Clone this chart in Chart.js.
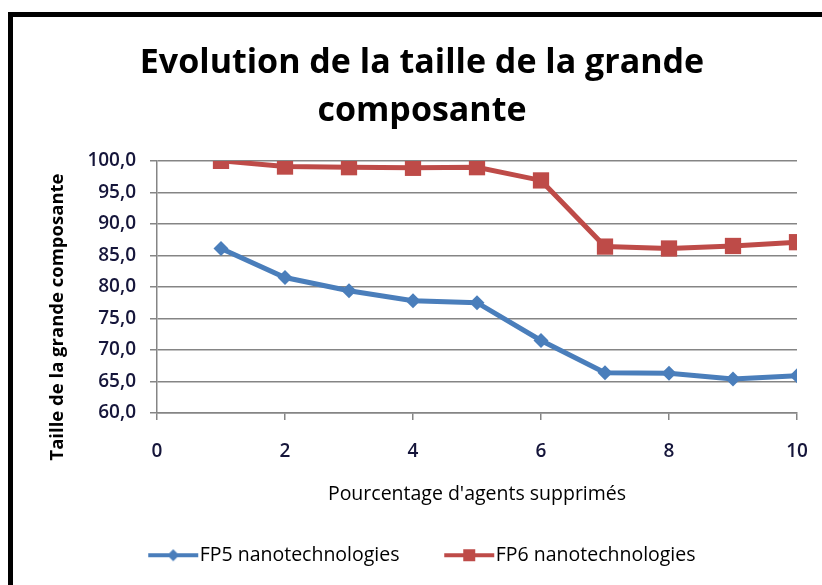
<!DOCTYPE html>
<html>
<head>
<meta charset="utf-8">
<script src="https://cdn.jsdelivr.net/npm/chart.js@4"></script>
<style>
  html, body { margin: 0; padding: 0; background: #fff; overflow: hidden; }
  body { width: 822px; height: 585px; position: relative; }
  #cadre {
    position: absolute; left: 8px; top: 12px; width: 900px; height: 700px;
    border-left: 5px solid #000; border-top: 5px solid #000;
  }
  #zone { position: absolute; left: 13px; top: 17px; width: 818px; height: 568px; }
</style>
</head>
<body>
<div id="cadre"></div>
<div id="zone"><canvas id="graphique"></canvas></div>
<script>
const pourcentages = [1, 2, 3, 4, 5, 6, 7, 8, 9, 10];
const fp5 = [86.1, 81.5, 79.4, 77.8, 77.5, 71.5, 66.4, 66.3, 65.4, 65.9];
const fp6 = [100.0, 99.1, 99.0, 98.9, 99.0, 96.9, 86.4, 86.1, 86.5, 87.1];
const ticksX = [0, 2, 4, 6, 8, 10];
const ticksY = [60, 65, 70, 75, 80, 85, 90, 95, 100];

const BLEU = "#4a7ebb";
const ROUGE = "#be4b48";
const GRIS = "#858585";
const TEXTE_AXES = "#15153a";

// icone de legende : trait + marqueur, decale a droite pour coller au texte
function iconeLegende(couleur, forme) {
  const c = document.createElement("canvas");
  c.width = 62;
  c.height = 20;
  const ctx = c.getContext("2d");
  ctx.strokeStyle = couleur;
  ctx.lineWidth = 4;
  ctx.beginPath();
  ctx.moveTo(10, 10);
  ctx.lineTo(60, 10);
  ctx.stroke();
  ctx.fillStyle = couleur;
  if (forme === "losange") {
    ctx.beginPath();
    ctx.moveTo(35, 4);
    ctx.lineTo(41, 10);
    ctx.lineTo(35, 16);
    ctx.lineTo(29, 10);
    ctx.closePath();
    ctx.fill();
  } else {
    ctx.fillRect(29, 4, 12, 12);
  }
  return c;
}

const icones = [iconeLegende(BLEU, "losange"), iconeLegende(ROUGE, "carre")];

const titreAxeY = {
  id: "titreAxeY",
  afterDraw(chart) {
    const ctx = chart.ctx;
    ctx.save();
    ctx.translate(45, 300);
    ctx.rotate(-Math.PI / 2);
    ctx.font = "bold 18.5px 'Open Sans'";
    ctx.fillStyle = "#000";
    ctx.textAlign = "center";
    ctx.textBaseline = "middle";
    ctx.fillText("Taille de la grande composante", 0, 0);
    ctx.restore();
  }
};

const serie = (valeurs) => pourcentages.map((x, i) => ({ x, y: valeurs[i] }));

new Chart(document.getElementById("graphique"), {
  type: "line",
  data: {
    datasets: [{
      label: "FP5 nanotechnologies",
      data: serie(fp5),
      borderColor: BLEU,
      backgroundColor: BLEU,
      borderWidth: 5,
      pointStyle: "rectRot",
      pointRadius: 7.5,
      pointBorderWidth: 0,
      tension: 0
    }, {
      label: "FP6 nanotechnologies",
      data: serie(fp6),
      borderColor: ROUGE,
      backgroundColor: ROUGE,
      borderWidth: 5,
      pointStyle: "rect",
      pointRadius: 11.5,
      pointBorderWidth: 0,
      tension: 0
    }]
  },
  options: {
    responsive: true,
    maintainAspectRatio: false,
    animation: false,
    layout: { padding: { left: 0, right: 0, top: 0, bottom: 10 } },
    plugins: {
      title: {
        display: true,
        text: ["Evolution de la taille de la grande", "composante"],
        color: "#000",
        font: { family: "'Open Sans'", size: 34, weight: "bold", lineHeight: 1.41 },
        padding: { top: 22, bottom: 26 }
      },
      legend: {
        position: "bottom",
        labels: {
          usePointStyle: true,
          pointStyleWidth: 41.5,
          padding: 45,
          color: "#000",
          font: { family: "'Open Sans'", size: 19.5 },
          generateLabels: (chart) =>
            Chart.defaults.plugins.legend.labels.generateLabels(chart)
              .map((item, i) => ({ ...item, pointStyle: icones[i] }))
        }
      },
      tooltip: { enabled: false }
    },
    scales: {
      x: {
        type: "linear",
        min: 0,
        max: 10,
        afterBuildTicks: (axe) => { axe.ticks = ticksX.map(v => ({ value: v })); },
        afterFit: (axe) => { axe.height = 87.5; },
        ticks: { color: TEXTE_AXES, padding: 20.5, font: { family: "'Open Sans'", size: 19, weight: 600 } },
        grid: { drawOnChartArea: false, drawTicks: true, tickLength: 7, color: GRIS, lineWidth: 1.5 },
        border: { color: GRIS, width: 1.5 },
        title: {
          display: true,
          text: "Pourcentage d'agents supprimés",
          color: "#000",
          font: { family: "'Open Sans'", size: 19.5, lineHeight: 1 },
          padding: { top: 0, bottom: -4 }
        }
      },
      y: {
        min: 60,
        max: 100,
        afterBuildTicks: (axe) => { axe.ticks = ticksY.map(v => ({ value: v })); },
        afterFit: (axe) => { axe.width = 144; },
        ticks: {
          color: TEXTE_AXES,
          padding: 14,
          font: { family: "'Open Sans'", size: 19, weight: 600 },
          callback: (v) => v.toFixed(1).replace(".", ",")
        },
        grid: { color: GRIS, lineWidth: 1.5, tickLength: 7 },
        border: { color: GRIS, width: 1.5 }
      },
      marge: {
        type: "linear",
        position: "right",
        display: true,
        afterFit: (axe) => { axe.width = 34; },
        ticks: { display: false },
        grid: { display: false },
        border: { display: false }
      }
    }
  },
  plugins: [titreAxeY]
});
</script>
</body>
</html>
